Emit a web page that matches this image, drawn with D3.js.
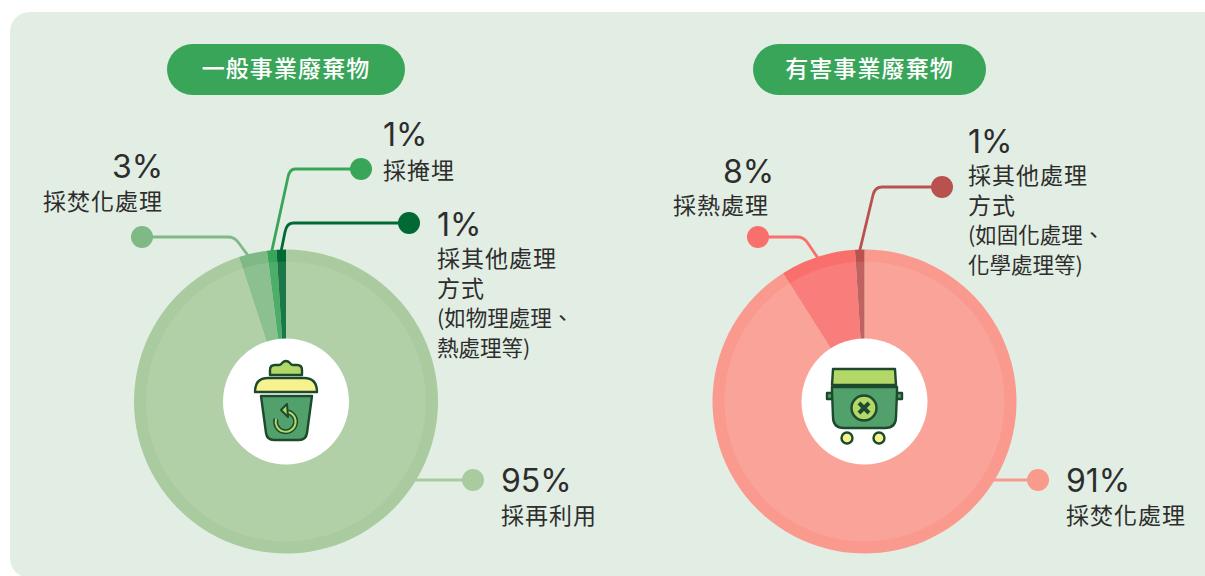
<!DOCTYPE html>
<html><head><meta charset="utf-8">
<script src="https://cdn.jsdelivr.net/npm/d3@7/dist/d3.min.js"></script>
<style>html,body{margin:0;padding:0;background:#fff;overflow:hidden}svg{display:block}
text{font-family:"Noto Sans CJK TC","Noto Sans",sans-serif;fill:#2d2d2d}</style></head>
<body><svg id="c" width="1205" height="576"></svg>
<script>
// ---- data ----
const titles = ["一般事業廢棄物", "有害事業廢棄物"];
const generalMethods = ["採再利用", "採焚化處理", "採掩埋", "採其他處理方式"];
const generalValues = [95, 3, 1, 1];
const hazardMethods = ["採焚化處理", "採熱處理", "採其他處理方式"];
const hazardValues = [91, 8, 1];
const generalNotes = [null, null, null, ["(如物理處理、", "熱處理等)"]];
const hazardNotes = [null, null, ["(如固化處理、", "化學處理等)"]];

// ---- layout and style ----
const svg = d3.select("#c");
const R = 152, Rin = 140, Rhole = 63;
svg.append("rect").attr("x", 10).attr("y", 12).attr("width", 1215).attr("height", 566).attr("rx", 20).attr("fill", "#e2eee3");

const charts = [
  { cx: 286, title: titles[0], pill: [167, 238], methods: generalMethods, values: generalValues, notes: generalNotes,
    colors: ["#a9cb9f", "#7fb985", "#39a559", "#006934"],
    dots: [[473, 480], [142, 237], [361, 169], [409, 223]],
    // elbow: end of the horizontal run, then where the bend joins the sloped run
    elbows: [null, [228, 238, 242], [295, 288, 177], [293, 285, 232]],
    attach: [0.5, 0.315, 0.5, 0.5],
    pct: [[501, 492], [112, 178], [383, 146], [437, 236]],
    lab: [[501, 524], [43, 210], [383, 179], [437, 267]] },
  { cx: 864.5, title: titles[1], pill: [753, 233], methods: hazardMethods, values: hazardValues, notes: hazardNotes,
    colors: ["#fa9a8e", "#f86f6c", "#b9524e"],
    dots: [[1038, 480], [758, 237], [942, 187]],
    elbows: [null, [797, 807, 242], [882, 873, 195]],
    attach: [0.5, 0.5, 0.5],
    pct: [[1066, 492], [723, 183], [968, 153]],
    lab: [[1066, 524], [673, 214], [968, 184]] }
];
const cy = 401.5;
const pie = d3.pie().sort(null).value(d => d);

charts.forEach(c => {
  svg.append("rect").attr("x", c.pill[0]).attr("y", 44).attr("width", c.pill[1]).attr("height", 51).attr("rx", 25.5).attr("fill", "#39a559");
  svg.append("text").attr("x", c.pill[0] + c.pill[1] / 2).attr("y", 77).attr("text-anchor", "middle")
    .attr("font-size", 23).attr("letter-spacing", 1.1).attr("font-weight", 500).style("fill", "#fff").text(c.title);

  const arcs = pie(c.values);
  const g = svg.append("g").attr("transform", `translate(${c.cx},${cy})`);

  // leaders (under the pie)
  arcs.forEach((a, i) => {
    const [dx, dy] = c.dots[i];
    const p = d3.path();
    p.moveTo(dx, dy);
    if (!c.elbows[i]) {
      const yy = dy - cy;
      p.lineTo(c.cx + Math.sqrt(R * R - yy * yy) - 2, dy);
    } else {
      const ang = a.startAngle + (a.endAngle - a.startAngle) * c.attach[i];
      const ex = c.cx + Math.sin(ang) * (R - 1), ey = cy - Math.cos(ang) * (R - 1);
      const [hx, bx, by] = c.elbows[i];
      p.lineTo(hx, dy);
      p.quadraticCurveTo(bx + (bx - ex) / (by - ey) * (dy - by), dy, bx, by);
      p.lineTo(ex, ey);
    }
    svg.append("path").attr("d", p.toString()).attr("fill", "none").attr("stroke", c.colors[i]).attr("stroke-width", 2.8);
    svg.append("circle").attr("cx", dx).attr("cy", dy).attr("r", 11).attr("fill", c.colors[i]);
  });

  // slices
  const arc = d3.arc().innerRadius(0).outerRadius(R);
  g.selectAll("path.s").data(arcs).join("path").attr("class", "s").attr("d", arc).attr("fill", (d, i) => c.colors[i]);
  g.append("circle").attr("r", Rin).attr("fill", "#fff").attr("fill-opacity", 0.1);
  g.append("circle").attr("r", Rhole).attr("fill", "#fff");

  // labels
  arcs.forEach((a, i) => {
    svg.append("text").attr("x", c.pct[i][0]).attr("y", c.pct[i][1]).attr("font-size", 32).attr("letter-spacing", 0)
      .style("font-family", "Inter").text(c.values[i] + "%");
    const m = c.methods[i];
    const lines = m.length > 5 ? [m.slice(0, 5), m.slice(5)] : [m];
    let y = c.lab[i][1];
    lines.forEach(t => {
      svg.append("text").attr("x", c.lab[i][0]).attr("y", y).attr("font-size", 23).attr("letter-spacing", 1).text(t);
      y += 30;
    });
    if (c.notes[i]) {
      y -= 1;
      c.notes[i].forEach(t => {
        svg.append("text").attr("x", c.lab[i][0]).attr("y", y).attr("font-size", 21.5).text(t);
        y += 30;
      });
    }
  });
});

// ---- icons ----
const ink = "#1d4a2c", bodyFill = "#52a06c", lime = "#b3d868", pale = "#f6f28e";
const i1 = svg.append("g").attr("transform", "translate(286,401)").attr("stroke", ink).attr("stroke-width", 2.4).attr("stroke-linejoin", "round");
i1.append("path").attr("fill", lime).attr("d", "M-16,-26 v-5 q0,-5 5,-5 h4 q2,0 3,-2 q4,-4 8,0 q1,2 3,2 h4 q5,0 5,5 v5 z");
i1.append("path").attr("fill", pale).attr("d", "M-31,-9 q0,-14 13,-14 h36 q13,0 13,14 z");
i1.append("path").attr("fill", bodyFill).attr("d", "M-25,-5 h51 l-5,37 q-1,7 -8,7 h-25 q-7,0 -8,-7 z");
i1.append("path").attr("fill", "none").attr("stroke", ink).attr("stroke-width", 5).attr("d", "M2,11 A10,10 0 1 1 -10,18");
i1.append("path").attr("fill", "none").attr("stroke", lime).attr("stroke-width", 2).attr("d", "M2,11 A10,10 0 1 1 -10,18");
i1.append("path").attr("fill", lime).attr("stroke-width", 2).attr("d", "M1,3 L-5,9 L2,16 z");

const i2 = svg.append("g").attr("transform", "translate(864,401)").attr("stroke", ink).attr("stroke-width", 2.4).attr("stroke-linejoin", "round");
i2.append("path").attr("fill", lime).attr("d", "M-31,-32 h62 l1,16 h-64 z");
i2.append("rect").attr("x", -37).attr("y", -8).attr("width", 75).attr("height", 6).attr("fill", bodyFill);
i2.append("path").attr("fill", bodyFill).attr("d", "M-32,-14 h65 v5 l-1,25 q0,11 -11,11 h-41 q-11,0 -11,-11 l-1,-25 z");
i2.append("circle").attr("cy", 7).attr("r", 12.5).attr("fill", lime);
i2.append("path").attr("fill", "none").attr("stroke-width", 4).attr("d", "M-5,2 L5,12 M5,2 L-5,12");
[-17, 15].forEach(x => i2.append("circle").attr("cx", x).attr("cy", 37).attr("r", 5.5).attr("fill", pale));
</script></body></html>
